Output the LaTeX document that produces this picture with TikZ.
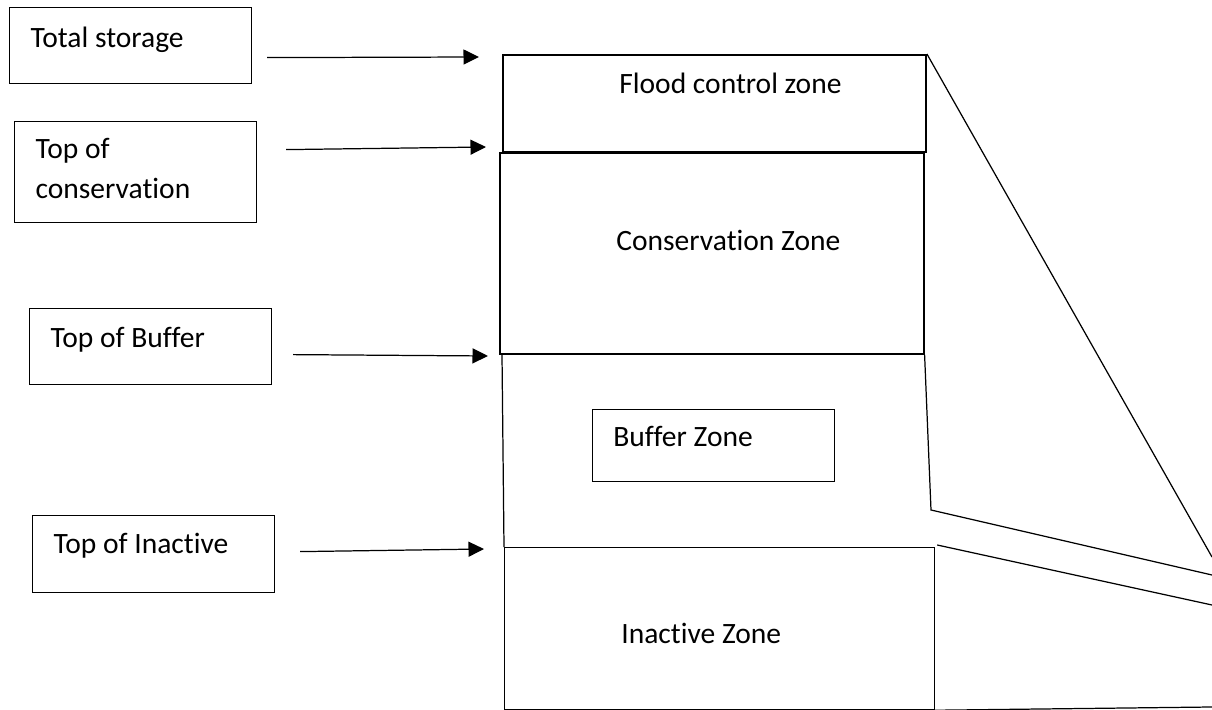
\documentclass[tikz,border=0pt]{standalone}
\usepackage{fontspec}
\setmainfont{Carlito}[Ligatures=CommonOff]
\usetikzlibrary{arrows.meta}

\begin{document}
\begin{tikzpicture}[x=0.2mm,y=-0.2mm,
    every node/.style={font=\fontsize{16.8}{22.8}\selectfont},
    labelbox/.style={draw,line width=0.7pt,anchor=north west,inner xsep=4.2mm,
      inner ysep=0pt,text width=40mm,align=flush left},
    zonebox/.style={draw,line width=0.7pt,anchor=north west,inner sep=0pt},
    zonetext/.style={anchor=base west,inner sep=0pt},
    pointer/.style={-{Triangle[length=3.1mm,width=3mm]},line width=0.7pt}]
    \useasboundingbox (0,0) rectangle (1212,710);
    \node[labelbox,text height=8mm,text depth=7.2mm] (total) at (9,7) {Total storage};
    \node[labelbox,text height=7.4mm,text depth=12.8mm] (topcons) at (14,121) {Top of\\conservation};
    \node[labelbox,text height=7.8mm,text depth=7.4mm] (topbuf) at (29,308) {Top of Buffer};
    \node[labelbox,text height=7.6mm,text depth=7.8mm] (topinact) at (32,515) {Top of Inactive};
    %
    \node[zonebox,line width=1.1pt,minimum width=84.6mm,minimum height=19.4mm] (flood) at (502,54) {};
    \node[zonebox,line width=0.9pt,minimum width=84.8mm,minimum height=40.2mm] (cons) at (499,152) {};
    \node[zonebox,minimum width=48.4mm,minimum height=14.4mm] (bufbox) at (592,409) {};
    \node[zonebox,minimum width=86mm,minimum height=32.4mm] (inact) at (504,547) {};
    \node[zonetext] (floodtxt) at (619,94) {Flood control zone};
    \node[zonetext] (constxt) at (616,251) {Conservation Zone};
    \node[zonetext] (buftxt) at (613,447) {Buffer Zone};
    \node[zonetext] (inacttxt) at (621,644) {Inactive Zone};
    %
    \coordinate (tsEnd) at (479,57);
    \coordinate (tcEnd) at (486,147);
    \coordinate (tbEnd) at (488,356);
    \coordinate (tiEnd) at (484,549);
    \draw[pointer] ([xshift=3mm,yshift=-2.4mm]total.east) -- (tsEnd);
    \draw[pointer] ([xshift=5.8mm,yshift=4.5mm]topcons.east) -- (tcEnd);
    \draw[pointer] ([xshift=4.2mm,yshift=-1.6mm]topbuf.east) -- (tbEnd);
    \draw[pointer] ([xshift=5mm,yshift=0.5mm]topinact.east) -- (tiEnd);
    %
    \coordinate (damTop) at (1212,557);
    \coordinate (bufKnee) at (931,510);
    \coordinate (bufEnd) at (1212,575);
    \coordinate (inEnd) at (1212,605);
    \coordinate (baseEnd) at (1212,707);
    \draw[line width=0.7pt] ([xshift=0.6mm]cons.south west) -- (inact.north west);
    \draw[line width=0.7pt] (flood.north east) -- (damTop);
    \draw[line width=0.7pt] (cons.south east) -- (bufKnee) -- (bufEnd);
    \draw[line width=0.7pt] ([xshift=0.4mm,yshift=0.4mm]inact.north east) -- (inEnd);
    \draw[line width=0.7pt] (inact.south east) -- (baseEnd);
\end{tikzpicture}
\end{document}
